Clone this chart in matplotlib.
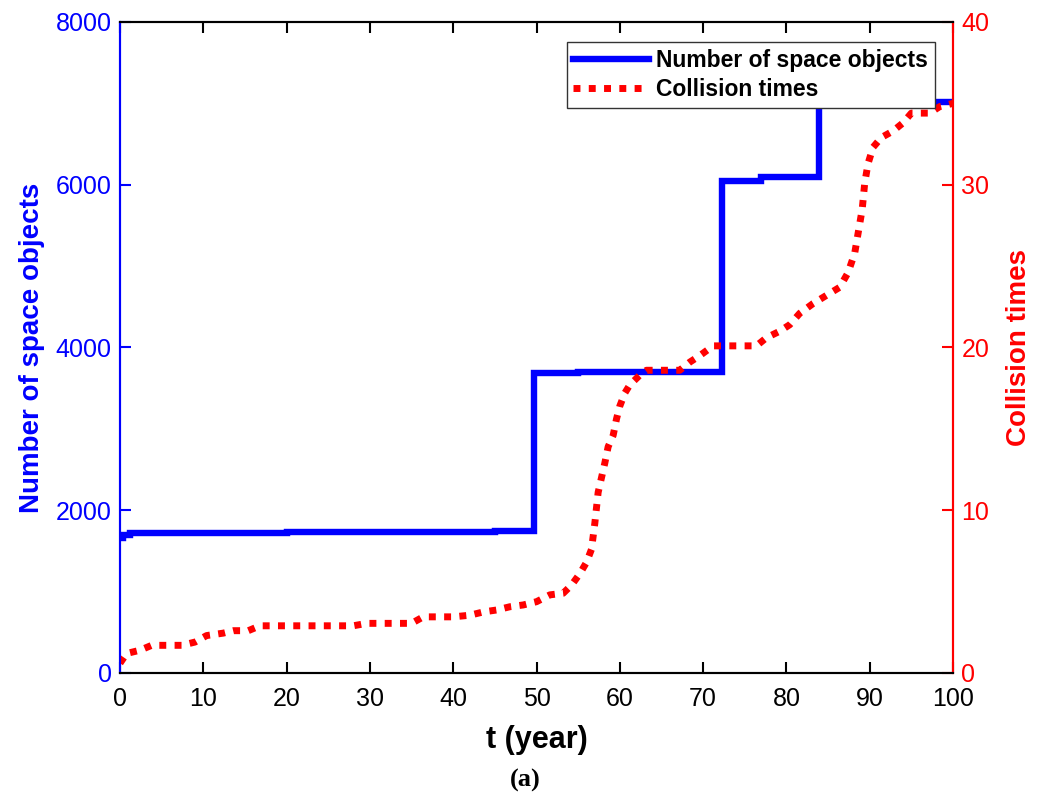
import matplotlib
import matplotlib.pyplot as plt
import numpy as np

matplotlib.use('Agg')

plt.rcParams['font.family'] = ['Liberation Sans', 'DejaVu Sans']

# number of space objects (step curve)
t_obj = [0, 0.4, 1.2, 20, 45, 49.7, 55, 72.3, 77.0, 83.9, 100]
n_obj = [1660, 1690, 1725, 1730, 1745, 3690, 3700, 6040, 6090, 7020, 7020]

# cumulative collision times
t_col = [0, 0.8, 2.4, 3.8, 7.4, 9.0, 10.4, 12.4, 13.6, 15.4, 16.8, 28.0, 29.6, 35.0,
         36.4, 40.0, 42.0, 43.6, 45.2, 46.8, 48.4, 50.0, 51.6, 53.2, 54.2, 55.2, 56.0,
         56.6, 57.0, 57.4, 58.2, 58.6, 59.2, 59.6, 60.0, 60.6, 61.2, 62.4, 63.2, 67.2,
         68.4, 69.6, 71.2, 76.4, 77.6, 79.2, 80.4, 81.6, 83.2, 84.8, 86.4, 87.4, 88.2,
         88.6, 89.1, 89.4, 89.8, 90.4, 91.4, 92.8, 94.0, 95.0, 97.2, 98.4, 100.0]
n_col = [0.6, 1.2, 1.4, 1.7, 1.7, 1.9, 2.3, 2.45, 2.6, 2.6, 2.9, 2.9, 3.05, 3.05,
         3.45, 3.45, 3.55, 3.75, 3.87, 4.07, 4.18, 4.38, 4.8, 4.9, 5.4, 6.1, 6.8,
         7.6, 9.2, 11.1, 12.9, 13.9, 14.6, 15.6, 16.4, 17.2, 17.7, 18.3, 18.6, 18.6,
         19.1, 19.5, 20.1, 20.1, 20.6, 21.0, 21.4, 22.1, 22.7, 23.2, 23.7, 24.6, 25.8,
         27.0, 28.5, 30.1, 31.3, 32.3, 32.9, 33.3, 33.8, 34.4, 34.4, 34.8, 35.0]

fig = plt.figure(figsize=(10.49, 7.99), dpi=100)
ax = fig.add_axes([0.1144, 0.1577, 0.7941, 0.8148])
ax2 = ax.twinx()

l1, = ax.plot(t_obj, n_obj, color='#0000ff', lw=4.6, drawstyle='steps-post',
              label='Number of space objects', solid_joinstyle='miter')
l2, = ax2.plot(t_col, n_col, color='#ff0000', lw=5, linestyle=(0, (1, 1.2)),
               label='Collision times')

ax.set_xlim(0, 100)
ax.set_ylim(0, 8000)
ax2.set_ylim(0, 40)
ax.set_xticks(np.arange(0, 101, 10))
ax.set_yticks(np.arange(0, 8001, 2000))
ax2.set_yticks(np.arange(0, 41, 10))

ax.tick_params(axis='x', direction='in', length=8, width=1.5, labelsize=18, top=True, pad=10, colors='black')
ax.tick_params(axis='y', direction='in', length=8, width=1.5, labelsize=18, colors='#0000ff', pad=6)
ax2.tick_params(axis='y', direction='in', length=8, width=1.5, labelsize=18, colors='#ff0000', pad=6)

for a in (ax, ax2):
    for s in a.spines.values():
        s.set_linewidth(1.5)
    a.spines['left'].set_color('#0000ff')
    a.spines['right'].set_color('#ff0000')
    a.spines['top'].set_color('black')
    a.spines['bottom'].set_color('black')

ax.set_xlabel('t (year)', fontsize=22, fontweight='bold', labelpad=10)
ax.set_ylabel('Number of space objects', fontsize=20, fontweight='bold', color='#0000ff', labelpad=8)
ax2.set_ylabel('Collision times', fontsize=20, fontweight='bold', color='#ff0000', labelpad=12)

leg = ax2.legend([l1, l2], ['Number of space objects', 'Collision times'],
                 loc='upper right', bbox_to_anchor=(0.978, 0.969),
                 prop={'weight': 'bold', 'size': 16.5}, fancybox=False,
                 edgecolor='#333333', framealpha=1, handlelength=3.3, borderpad=0.3,
                 labelspacing=0.25, handletextpad=0.3, borderaxespad=0)
leg.get_frame().set_linewidth(1.0)

fig.text(0.5005, 0.015, '(a)', fontsize=19, fontweight='bold', family='Liberation Serif', ha='center')

fig.savefig('out.png', dpi=100)
